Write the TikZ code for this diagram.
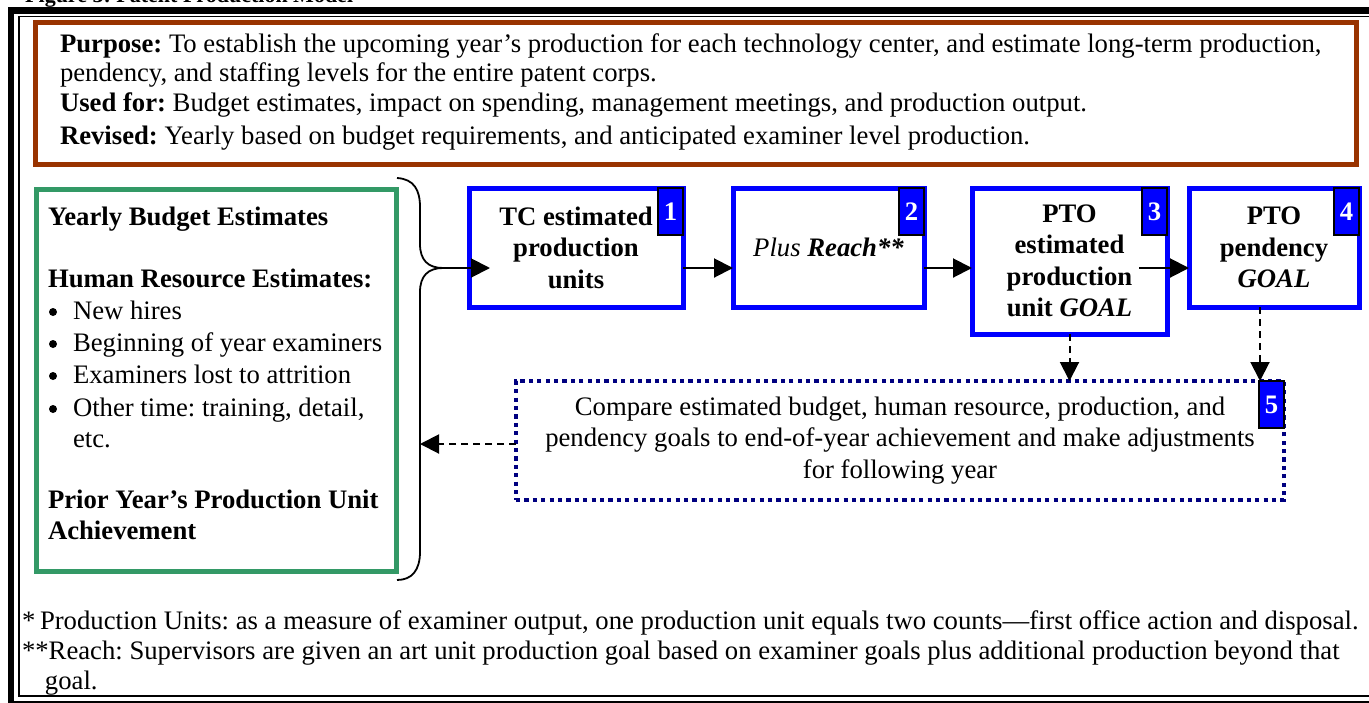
\documentclass[tikz,border=0pt]{standalone}
\usepackage{fontspec}
\setmainfont{Liberation Serif}
\usetikzlibrary{arrows.meta,calc}
\definecolor{rust}{HTML}{993300}
\definecolor{sea}{HTML}{339966}
\definecolor{pureblue}{HTML}{0000FF}
\definecolor{navyblue}{HTML}{000080}
\newcommand{\bodysize}{\fontsize{26.7}{31.5}\selectfont}
\frenchspacing

\begin{document}
\begin{tikzpicture}[x=1pt,y=-1pt,
  txt/.style={font=\bodysize, inner sep=0pt, outer sep=0pt},
  textline/.style={txt, anchor=base west},
  dot/.style={circle, fill=black, minimum size=8pt, inner sep=0pt, outer sep=0pt},
  panel/.style={line width=5pt, inner sep=0pt, outer sep=0pt, anchor=north west},
  stagebox/.style={draw=pureblue, line width=5pt, inner sep=0pt, outer sep=0pt,
    align=center, font=\bodysize\bfseries},
  badge/.style={draw=black, fill=pureblue, line width=2pt, minimum width=25pt,
    minimum height=47pt, inner sep=0pt, outer sep=0pt, anchor=north east,
    text=white, font=\bodysize\bfseries},
  flow/.style={line width=2pt, -{Triangle[length=19pt,width=19pt]}},
  feedback/.style={flow, dash pattern=on 7pt off 5pt},
]
\useasboundingbox (0,0) rectangle (1369,702);

% page frame (thick outer rule, thin inner rule) and figure title
\begin{scope}
  \clip (0,0) rectangle (1369,702);
  \draw[line width=6.5pt] (11,10.5) rectangle (1380,704);
  \draw[line width=1.8pt] (19,16.5) rectangle (1374,696);
  \node[anchor=base west, inner sep=0pt, font=\bfseries\fontsize{22}{26}\selectfont]
    (title) at (25,2) {Figure 3: Patent Production Model};
\end{scope}

% purpose panel
\node[panel, draw=rust, minimum width=1321pt, minimum height=142pt] (purpose) at (35,22) {};
\node[textline] (p1) at (60,52) {\textbf{Purpose:} To establish the upcoming year’s production for each technology center, and estimate long-term production,};
\node[textline] (p2) at (60,81) {pendency, and staffing levels for the entire patent corps.};
\node[textline] (p3) at (60,111) {\textbf{Used for:} Budget estimates, impact on spending, management meetings, and production output.};
\node[textline] (p4) at (60,144) {\textbf{Revised:} Yearly based on budget requirements, and anticipated examiner level production.};

% inputs panel
\node[panel, draw=sea, minimum width=360pt, minimum height=382pt] (budget) at (36,189) {};
\node[textline] (b1) at (48,225) {\textbf{Yearly Budget Estimates}};
\node[textline] (b2) at (48,287) {\textbf{Human Resource Estimates:}};
\node[dot] (b3) at (53,312) {};
\node[textline] (b3t) at (73,319) {New hires};
\node[dot] (b4) at (53,344) {};
\node[textline] (b4t) at (73,351) {Beginning of year examiners};
\node[dot] (b5) at (53,376) {};
\node[textline] (b5t) at (73,383) {Examiners lost to attrition};
\node[dot] (b6) at (53,409) {};
\node[textline] (b6t) at (73,416) {Other time: training, detail,};
\node[textline] (b7t) at (73,447) {etc.};
\node[textline] (b8) at (48,508) {\textbf{Prior Year’s Production Unit}};
\node[textline] (b9) at (48,539) {\textbf{Achievement}};

% brace gathering the inputs
\coordinate (bracetip) at (443,268);
\coordinate (spine) at (420,444);
\draw[line width=1.8pt] (397,178) .. controls (414,179) and (420,190) .. (420,207)
  -- (420,244) .. controls (420,260) and (428,268) .. (bracetip)
  .. controls (428,268) and (420,276) .. (420,292)
  -- (420,552) .. controls (420,570) and (412,580) .. (397,580);

% production stages
\node[stagebox, minimum width=214pt, minimum height=119pt] (s1) at (576,247.5)
  {TC estimated\\production\\units};
\node[stagebox, minimum width=191pt, minimum height=119pt] (s2) at (828.5,247.5)
  {{\mdseries\itshape Plus} {\itshape Reach**}};
\node[stagebox, minimum width=195pt, minimum height=146pt] (s3) at (1069.5,261)
  {PTO\\estimated\\production\\unit \textit{GOAL}};
\node[stagebox, minimum width=170pt, minimum height=119pt] (s4) at (1274,247.5)
  {PTO\\pendency\\\textit{GOAL}};

% review step
\node[draw=navyblue, line width=4.5pt, dash pattern=on 4.2pt off 4.2pt,
  minimum width=768pt, minimum height=119pt, inner sep=0pt, outer sep=0pt,
  align=center, font=\bodysize] (review) at (900,440.5)
  {Compare estimated budget, human resource, production, and\\
   pendency goals to end-of-year achievement and make adjustments\\
   for following year};

% step numbers
\node[badge] (n1) at (s1.north east) {\raisebox{-5pt}{1}};
\node[badge] (n2) at (s2.north east) {\raisebox{-5pt}{2}};
\node[badge] (n3) at (s3.north east) {\raisebox{-5pt}{3}};
\node[badge] (n4) at (s4.north east) {\raisebox{-5pt}{4}};
\node[badge] (n5) at (review.north east) {\raisebox{-5pt}{5}};

% connectors
\coordinate (s3out) at ($(s3.east |- bracetip)+(-28,0)$);
\coordinate (s4drop) at ($(s4.south)+(-14,0)$);
\draw[flow] (bracetip) -- ($(bracetip -| s1.west)+(21,0)$);
\draw[flow] (s1.east |- bracetip) -- (s2.west |- bracetip);
\draw[flow] (s2.east |- bracetip) -- (s3.west |- bracetip);
\draw[flow] (s3out) -- (s4.west |- bracetip);
\draw[feedback] (s3.south) -- (s3.south |- review.north);
\draw[feedback] (s4drop) -- (s4drop |- review.north);
\draw[feedback] (review.west |- spine) -- (spine);

% footnotes
\node[textline] (f0) at (22,629) {*};
\node[textline] (f1) at (40,629) {Production Units: as a measure of examiner output, one production unit equals two counts—first office action and disposal.};
\node[textline] (f2) at (22,659) {**Reach: Supervisors are given an art unit production goal based on examiner goals plus additional production beyond that};
\node[textline] (f3) at (45,689) {goal.};
\end{tikzpicture}
\end{document}
